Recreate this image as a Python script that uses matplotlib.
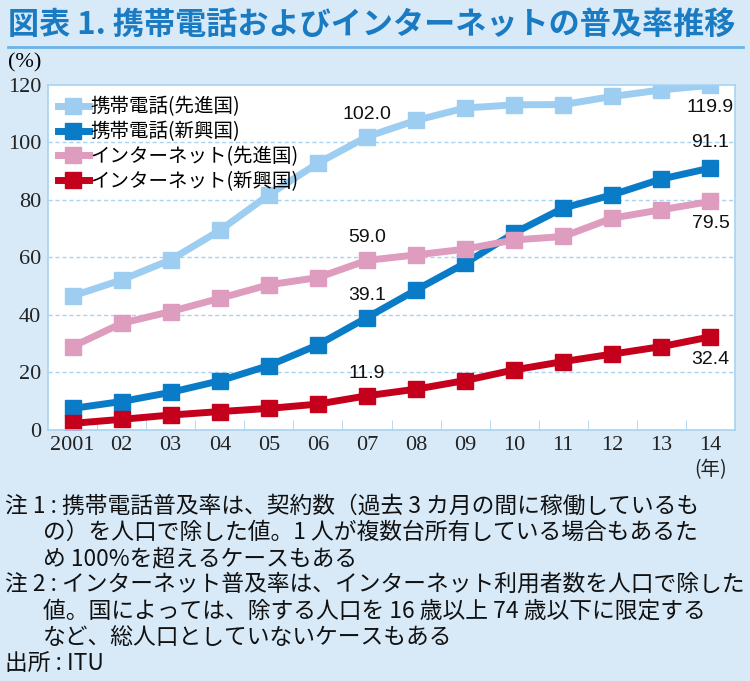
import numpy as np
import matplotlib.pyplot as plt
from matplotlib.lines import Line2D

plt.rcParams['font.family'] = ['Noto Sans CJK JP', 'DejaVu Sans']

# データ
years = ['2001', '02', '03', '04', '05', '06', '07', '08', '09', '10', '11', '12', '13', '14']
mobile_adv = [46.6, 52.2, 59.2, 69.4, 81.8, 92.8, 102.0, 107.7, 112.0, 113.1, 113.2, 116.0, 118.3, 119.9]
mobile_emg = [7.5, 9.9, 13.1, 17.1, 22.4, 29.6, 39.1, 48.7, 58.0, 68.5, 77.2, 81.8, 87.3, 91.1]
net_adv = [29.0, 37.1, 41.2, 45.8, 50.5, 53.0, 59.0, 60.9, 62.9, 66.1, 67.3, 73.7, 76.6, 79.5]
net_emg = [2.3, 3.7, 5.2, 6.4, 7.5, 9.0, 11.9, 14.2, 17.2, 20.9, 23.8, 26.4, 29.0, 32.4]
labels = ['携帯電話(先進国)', '携帯電話(新興国)', 'インターネット(先進国)', 'インターネット(新興国)']
colors = ['#9DCDF0', '#0A7CC7', '#DE9CBE', '#C5001C']

bg = '#D8EAF8'
grid_c = '#A9D3F1'

fig = plt.figure(figsize=(7.5, 6.81), dpi=100, facecolor=bg)
ax = fig.add_axes([0.064, 0.3686, 0.916, 0.5066])
ax.set_facecolor('white')

x = np.arange(len(years))
series = [mobile_adv, mobile_emg, net_adv, net_emg]
handles = []
for s, c, lab in zip(series, colors, labels):
    ax.plot(x, s, color=c, lw=5, marker='s', ms=11, mec=c, mfc=c, solid_joinstyle='miter')
    handles.append(Line2D([0], [0], color=c, lw=5, marker='s', ms=11, label=lab))

ax.set_xlim(-0.5, 13.5)
ax.set_ylim(0, 120)
ax.set_yticks(range(0, 121, 20))
ax.set_yticklabels([str(v) for v in range(0, 121, 20)], family='Liberation Serif', fontsize=16)
ax.set_xticks(x)
ax.set_xticklabels(years, family='Liberation Serif', fontsize=16)
ax.set_xticks(np.arange(0.5, 13.5, 1), minor=True)
ax.tick_params(axis='x', which='major', length=0, pad=4, colors='#222222')
ax.tick_params(axis='x', which='minor', length=7, direction='in', color=grid_c)
ax.tick_params(axis='y', length=0, pad=5, colors='#222222')
for v in range(20, 120, 20):
    ax.axhline(v, color=grid_c, lw=1, ls=(0, (3, 2)), zorder=0)
for sp in ax.spines.values():
    sp.set_color(grid_c)
    sp.set_linewidth(1.2)

# データラベル
lab_kw = dict(family='Liberation Sans', fontsize=14, ha='center', color='#111111')
ax.annotate('102.0', (6, mobile_adv[6]), xytext=(0, 10), textcoords='offset points', va='bottom', **lab_kw)
ax.annotate('59.0', (6, net_adv[6]), xytext=(0, 10), textcoords='offset points', va='bottom', **lab_kw)
ax.annotate('39.1', (6, mobile_emg[6]), xytext=(0, 10), textcoords='offset points', va='bottom', **lab_kw)
ax.annotate('11.9', (6, net_emg[6]), xytext=(0, 10), textcoords='offset points', va='bottom', **lab_kw)
ax.annotate('119.9', (13, mobile_adv[13]), xytext=(0, -10), textcoords='offset points', va='top', **lab_kw)
ax.annotate('91.1', (13, mobile_emg[13]), xytext=(0, 12), textcoords='offset points', va='bottom', **lab_kw)
ax.annotate('79.5', (13, net_adv[13]), xytext=(0, -10), textcoords='offset points', va='top', **lab_kw)
ax.annotate('32.4', (13, net_emg[13]), xytext=(0, -10), textcoords='offset points', va='top', **lab_kw)

leg = ax.legend(handles=handles, loc='upper left', frameon=False, fontsize=14,
                handlelength=1.6, handletextpad=0.1, labelspacing=0.2,
                borderaxespad=0.1, bbox_to_anchor=(0.0, 0.995))

# タイトル
fig.text(0.010, 0.963, '図表 1. 携帯電話およびインターネットの普及率推移', fontsize=22.4,
         color='#1A7BC3', va='center', ha='left', weight='bold')
fig.add_artist(Line2D([0.01, 0.99], [0.931, 0.931], color='#6CB4E9', lw=2))

fig.text(0.033, 0.908, '(%)', family='Liberation Serif', fontsize=16, ha='center', va='center')
fig.text(0.947, 0.31, '(年)', fontsize=14, ha='center', va='center', color='#222222')

# 注記
note_lines = [
    (0.007, '注 1 : 携帯電話普及率は、契約数（過去 3 カ月の間に稼働しているも'),
    (0.057, 'の）を人口で除した値。1 人が複数台所有している場合もあるた'),
    (0.057, 'め 100%を超えるケースもある'),
    (0.007, '注 2 : インターネット普及率は、インターネット利用者数を人口で除した'),
    (0.057, '値。国によっては、除する人口を 16 歳以上 74 歳以下に限定する'),
    (0.057, 'など、総人口としていないケースもある'),
    (0.007, '出所 : ITU'),
]
y0 = 506
for i, (xx, t) in enumerate(note_lines):
    fig.text(xx, 1 - (y0 + i * 26.2) / 681, t, fontsize=16.4, ha='left', va='center', color='#111111')

fig.savefig('out.png', dpi=100, facecolor=bg)
